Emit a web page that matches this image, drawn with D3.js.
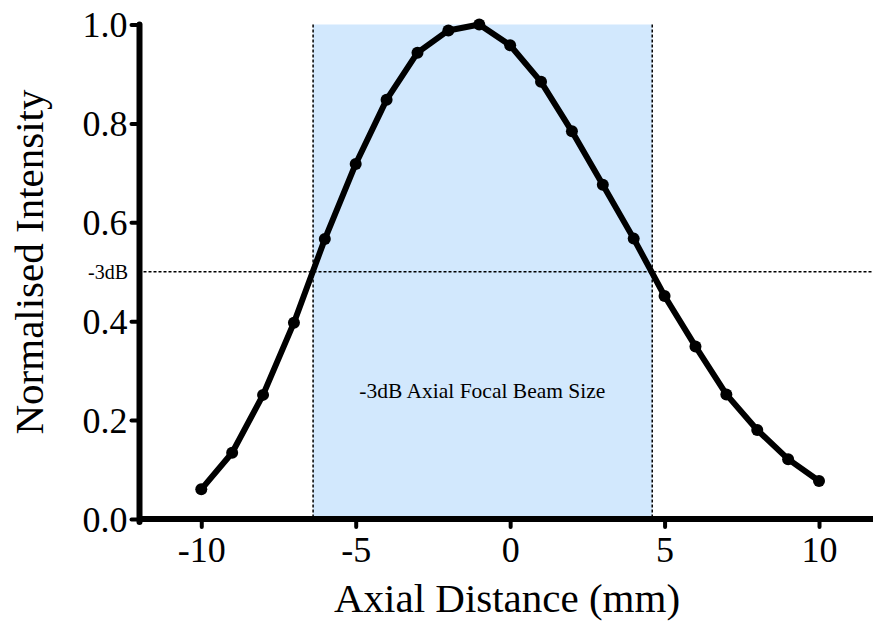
<!DOCTYPE html>
<html>
<head>
<meta charset="utf-8">
<script src="https://cdn.jsdelivr.net/npm/d3@7"></script>
<style>
  html, body { margin: 0; padding: 0; background: #fff; }
  svg { display: block; }
  text { font-family: "Liberation Serif", "Times New Roman", serif; fill: #000; }
</style>
</head>
<body>
<svg id="chart" width="873" height="621"></svg>
<script>
// ---- data ----
const distances = [-10, -9, -8, -7, -6, -5, -4, -3, -2, -1, 0, 1, 2, 3, 4, 5, 6, 7, 8, 9, 10];
const intensities = [0.060, 0.134, 0.251, 0.397, 0.566, 0.718, 0.848, 0.943, 0.988, 1.000, 0.958,
                     0.884, 0.784, 0.676, 0.567, 0.451, 0.349, 0.252, 0.180, 0.121, 0.077];
const xTicks = [-10, -5, 0, 5, 10];
const yTicks = [0.0, 0.2, 0.4, 0.6, 0.8, 1.0];
const beamRange = [-6.38, 4.60];
const dbLevel = [0.5];
const dbLabel = "-3dB";
const beamLabel = "-3dB Axial Focal Beam Size";
const beamLabelPos = [-0.9, 0.26];
const xTitle = "Axial Distance (mm)";
const yTitle = "Normalised Intensity";

// ---- scales ----
const svg = d3.select("#chart");
const x = d3.scaleLinear().domain([-12, 11.78]).range([139.5, 874]);
const y = d3.scaleLinear().domain([0, 1]).range([519, 24.5]);

// shaded beam region
svg.append("rect")
  .attr("x", x(beamRange[0]))
  .attr("y", y(1))
  .attr("width", x(beamRange[1]) - x(beamRange[0]))
  .attr("height", y(0) - y(1))
  .attr("fill", "#d2e8fd");

// dashed vertical lines
svg.selectAll("line.vbeam").data(beamRange).enter().append("line")
  .attr("class", "vbeam")
  .attr("x1", d => x(d)).attr("x2", d => x(d))
  .attr("y1", y(1)).attr("y2", y(0))
  .attr("stroke", "#000").attr("stroke-width", 1.5)
  .attr("stroke-dasharray", "3,2");

// -3dB horizontal line
svg.selectAll("line.hdb").data(dbLevel).enter().append("line")
  .attr("class", "hdb")
  .attr("x1", x(-12) + 4).attr("x2", 873)
  .attr("y1", d => y(d)).attr("y2", d => y(d))
  .attr("stroke", "#000").attr("stroke-width", 1.5)
  .attr("stroke-dasharray", "3,2");

svg.append("text")
  .attr("x", 128).attr("y", y(dbLevel[0]))
  .attr("dy", "0.35em")
  .attr("text-anchor", "end")
  .attr("font-size", 20)
  .text(dbLabel);

svg.append("text")
  .attr("x", x(beamLabelPos[0])).attr("y", y(beamLabelPos[1]))
  .attr("dy", "0.35em")
  .attr("text-anchor", "middle")
  .attr("font-size", 21.5)
  .text(beamLabel);

// ---- axes ----
const xAxis = d3.axisBottom(x).tickValues(xTicks).tickSize(0).tickPadding(0).tickFormat(d3.format("d"));
const gx = svg.append("g").attr("transform", `translate(0,${y(0)})`).call(xAxis);
gx.select(".domain").remove();
gx.selectAll(".tick text").remove();
gx.selectAll(".tick").append("line")
  .attr("y1", 0).attr("y2", 8)
  .attr("stroke", "#000").attr("stroke-width", 4).attr("stroke-linecap", "round");
gx.selectAll(".tick").append("text")
  .attr("y", 43)
  .attr("text-anchor", "middle")
  .attr("font-size", 36)
  .text(d => d3.format("d")(d).replace("−", "-"));

const yAxis = d3.axisLeft(y).tickValues(yTicks).tickSize(0);
const gy = svg.append("g").attr("transform", `translate(${x(-12)},0)`).call(yAxis);
gy.select(".domain").remove();
gy.selectAll(".tick text").remove();
gy.selectAll(".tick").append("line")
  .attr("x1", 0).attr("x2", -8)
  .attr("stroke", "#000").attr("stroke-width", 4).attr("stroke-linecap", "round");
gy.selectAll(".tick").append("text")
  .attr("x", -12)
  .attr("dy", "0.34em")
  .attr("text-anchor", "end")
  .attr("font-size", 36)
  .text(d => d3.format(".1f")(d));

// axis lines
svg.append("line")
  .attr("x1", x(-12)).attr("x2", 873)
  .attr("y1", y(0)).attr("y2", y(0))
  .attr("stroke", "#000").attr("stroke-width", 6);
svg.append("line")
  .attr("x1", x(-12)).attr("x2", x(-12))
  .attr("y1", y(0) + 3).attr("y2", y(1))
  .attr("stroke", "#000").attr("stroke-width", 6).attr("stroke-linecap", "round");

// ---- data line and points ----
const data = distances.map((d, i) => ({ x: d, y: intensities[i] }));
svg.append("path")
  .datum(data)
  .attr("fill", "none")
  .attr("stroke", "#000")
  .attr("stroke-width", 6)
  .attr("stroke-linejoin", "round")
  .attr("d", d3.line().x(d => x(d.x)).y(d => y(d.y)));

svg.selectAll("circle.pt").data(data).enter().append("circle")
  .attr("class", "pt")
  .attr("cx", d => x(d.x)).attr("cy", d => y(d.y))
  .attr("r", 6)
  .attr("fill", "#000");

// ---- titles ----
svg.append("text")
  .attr("x", 507).attr("y", 612)
  .attr("text-anchor", "middle")
  .attr("font-size", 41)
  .text(xTitle);

svg.append("text")
  .attr("transform", `translate(43,262) rotate(-90)`)
  .attr("text-anchor", "middle")
  .attr("font-size", 41)
  .text(yTitle);
</script>
</body>
</html>
